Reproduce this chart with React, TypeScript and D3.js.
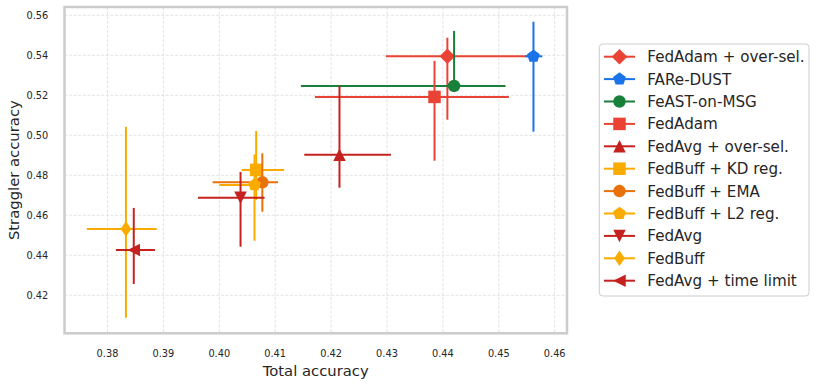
import React from "react";
import * as d3 from "d3";

const methods = [
  "FedAdam + over-sel.",
  "FARe-DUST",
  "FeAST-on-MSG",
  "FedAdam",
  "FedAvg + over-sel.",
  "FedBuff + KD reg.",
  "FedBuff + EMA",
  "FedBuff + L2 reg.",
  "FedAvg",
  "FedBuff",
  "FedAvg + time limit",
];
const markers = ["D", "p", "o", "s", "^", "s", "o", "p", "v", "d", "<"];
const colors = [
  "#ea4335", "#1a73e8", "#188038", "#ea4335", "#c5221f",
  "#f9ab00", "#e8710a", "#f9ab00", "#c5221f", "#f9ab00", "#c5221f",
];
const totalAcc = [0.4408, 0.4562, 0.4420, 0.4385, 0.4215, 0.4066, 0.4077, 0.4063, 0.4038, 0.3833, 0.3847];
const totalLow = [0.4298, 0.4547, 0.4146, 0.4171, 0.4152, 0.4040, 0.3988, 0.4000, 0.3962, 0.3763, 0.3815];
const totalHigh = [0.4555, 0.4578, 0.4512, 0.4518, 0.4307, 0.4116, 0.4105, 0.4070, 0.4081, 0.3888, 0.3885];
const stragAcc = [0.5395, 0.5395, 0.5247, 0.5192, 0.4903, 0.4827, 0.4765, 0.4752, 0.4688, 0.4532, 0.4427];
const stragLow = [0.5078, 0.5018, 0.5225, 0.4873, 0.4738, 0.4677, 0.4618, 0.4473, 0.4443, 0.4088, 0.4257];
const stragHigh = [0.5488, 0.5568, 0.5522, 0.5372, 0.5247, 0.5022, 0.4910, 0.4905, 0.4817, 0.5042, 0.4637];

const xTicks = [0.38, 0.39, 0.40, 0.41, 0.42, 0.43, 0.44, 0.45, 0.46];
const yTicks = [0.42, 0.44, 0.46, 0.48, 0.50, 0.52, 0.54, 0.56];

const W = 816, H = 385;
const L = 64.5, R = 567, T = 7, B = 333.3;
const font = "'DejaVu Sans', sans-serif";
const textCol = "#262626";

const x = d3.scaleLinear().domain([0.37231, 0.4622]).range([L, R]);
const y = d3.scaleLinear().domain([0.401, 0.56415]).range([B, T]);

const MS = 12.5;

function markerPath(m: string): string {
  const h = MS / 2;
  switch (m) {
    case "D": {
      const r = h * 1.25;
      return `M0,${-r}L${r},0L0,${r}L${-r},0Z`;
    }
    case "d": {
      const r = h * 1.25;
      const w = r * 0.68;
      return `M0,${-r}L${w},0L0,${r}L${-w},0Z`;
    }
    case "s":
      return `M${-h},${-h}L${h},${-h}L${h},${h}L${-h},${h}Z`;
    case "o":
      return d3.symbol(d3.symbolCircle, Math.PI * h * h)() as string;
    case "p": {
      const r = h * 1.08;
      const pts = d3.range(5).map((i) => {
        const a = -Math.PI / 2 + (i * 2 * Math.PI) / 5;
        return [r * Math.cos(a), r * Math.sin(a)];
      });
      return "M" + pts.map((p) => p.join(",")).join("L") + "Z";
    }
    case "^":
      return `M0,${-h}L${h},${h}L${-h},${h}Z`;
    case "v":
      return `M0,${h}L${h},${-h}L${-h},${-h}Z`;
    case "<":
      return `M${-h},0L${h},${-h}L${h},${h}Z`;
    default:
      return "";
  }
}

export default function App() {
  const legendX = 599.3, legendY = 44, legendW = 209.7, legendH = 252;
  const rowY0 = 56.7, rowDy = 22.4;
  return (
    <svg width={W} height={H} style={{ position: "absolute", left: 0, top: 0, background: "#fff" }} fontFamily={font}>
      <rect x={0} y={0} width={W} height={H} fill="#fff" />
      {/* grid */}
      {xTicks.map((t) => (
        <line key={"gx" + t} x1={x(t)} x2={x(t)} y1={T} y2={B} stroke="#dcdcdc" strokeWidth={0.8} strokeDasharray="3,1.6" />
      ))}
      {yTicks.map((t) => (
        <line key={"gy" + t} x1={L} x2={R} y1={y(t)} y2={y(t)} stroke="#dcdcdc" strokeWidth={0.8} strokeDasharray="3,1.6" />
      ))}
      {/* error bars + markers */}
      {methods.map((m, i) => (
        <g key={m}>
          <line x1={x(totalLow[i])} x2={x(totalHigh[i])} y1={y(stragAcc[i])} y2={y(stragAcc[i])} stroke={colors[i]} strokeWidth={2} />
          <line x1={x(totalAcc[i])} x2={x(totalAcc[i])} y1={y(stragLow[i])} y2={y(stragHigh[i])} stroke={colors[i]} strokeWidth={2} />
          <path d={markerPath(markers[i])} transform={`translate(${x(totalAcc[i])},${y(stragAcc[i])})`} fill={colors[i]} />
        </g>
      ))}
      {/* frame */}
      <rect x={L} y={T} width={R - L} height={B - T} fill="none" stroke="#cccccc" strokeWidth={2.5} />
      {/* ticks */}
      {xTicks.map((t) => (
        <text key={"tx" + t} x={x(t)} y={357.3} textAnchor="middle" fontSize={9.8} fill={textCol}>
          {t.toFixed(2)}
        </text>
      ))}
      {yTicks.map((t) => (
        <text key={"ty" + t} x={48.3} y={y(t) + 3.8} textAnchor="end" fontSize={9.8} fill={textCol}>
          {t.toFixed(2)}
        </text>
      ))}
      <text x={(L + R) / 2} y={375.5} textAnchor="middle" fontSize={14.8} fill={textCol}>
        Total accuracy
      </text>
      <text transform={`translate(18.5,${(T + B) / 2}) rotate(-90)`} textAnchor="middle" fontSize={14.8} fill={textCol}>
        Straggler accuracy
      </text>
      {/* legend */}
      <rect x={legendX} y={legendY} width={legendW} height={legendH} rx={3.5} fill="#fff" fillOpacity={0.8} stroke="#cccccc" strokeWidth={1} />
      {methods.map((m, i) => {
        const cy = rowY0 + i * rowDy;
        return (
          <g key={"lg" + m}>
            <line x1={604} x2={635} y1={cy} y2={cy} stroke={colors[i]} strokeWidth={2} />
            <path d={markerPath(markers[i])} transform={`translate(619.5,${cy})`} fill={colors[i]} />
            <text x={647.3} y={cy + 5.4} fontSize={15.15} fill={textCol}>
              {m}
            </text>
          </g>
        );
      })}
    </svg>
  );
}
